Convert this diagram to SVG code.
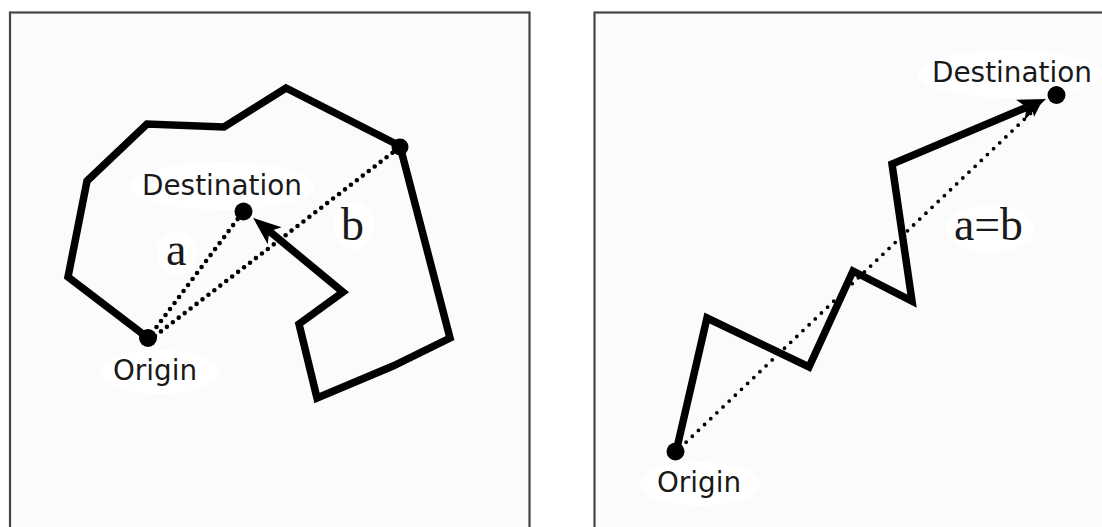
<svg xmlns="http://www.w3.org/2000/svg" width="1102" height="527" viewBox="0 0 1102 527">
  <style>
    .panel { fill: #fbfbfb; stroke: #444; stroke-width: 2.2; }
    .route { fill: none; stroke: #000; stroke-width: 7.5; stroke-linejoin: miter; stroke-miterlimit: 10; }
    .dots { fill: none; stroke: #000; stroke-width: 4.6; stroke-linecap: round; stroke-dasharray: 0 7.5; }
    .dots2 { fill: none; stroke: #000; stroke-width: 3.8; stroke-linecap: round; stroke-dasharray: 0 8.5; }
    .lbl { font-family: "DejaVu Sans", "Liberation Sans", sans-serif; font-size: 28px; fill: #1a1a1a; }
    .var { font-family: "Liberation Serif", "Times New Roman", serif; font-size: 46px; fill: #1a1a1a; }
    .halo { fill: #ffffff; }
    .dot { fill: #000; }
  </style>
  <defs>
    <marker id="bigArrow" markerUnits="userSpaceOnUse" markerWidth="30" markerHeight="26" viewBox="0 -13 30 26" refX="7" refY="0" orient="auto">
      <path d="M0,-11 L28,0 L0,11 L7,0 Z" fill="#000"/>
    </marker>
    <marker id="smallArrow" markerUnits="userSpaceOnUse" markerWidth="16" markerHeight="14" viewBox="0 -7 16 14" refX="2" refY="0" orient="auto">
      <path d="M0,-5 L14,0 L0,5 L3,0 Z" fill="#000"/>
    </marker>
  </defs>

  <rect width="1102" height="527" fill="#ffffff"/>

  <g id="panel-left">
    <rect class="panel" x="10" y="12.5" width="519.5" height="530"/>
  </g>
  <g id="panel-right">
    <rect class="panel" x="594.5" y="12.5" width="530" height="530"/>
  </g>

  <g id="halos">
    <ellipse class="halo" cx="222" cy="186" rx="92" ry="24"/>
    <ellipse class="halo" cx="160" cy="372" rx="60" ry="22"/>
    <ellipse class="halo" cx="177" cy="253" rx="20" ry="22"/>
    <ellipse class="halo" cx="354" cy="226" rx="20" ry="24"/>
    <ellipse class="halo" cx="1010" cy="74" rx="92" ry="24"/>
    <ellipse class="halo" cx="700" cy="484" rx="60" ry="22"/>
    <ellipse class="halo" cx="990" cy="229" rx="44" ry="24"/>
  </g>

  <g id="connectors">
    <!-- left panel: thick route -->
    <polyline class="route" points="148,338 68,277 87,181 147,124 224,127 286,88 400,146 450,338 393,366 317,398 299,324 343,292 269.3,231.2" marker-end="url(#bigArrow)"/>
    <!-- left panel: straight-line distances -->
    <line class="dots" x1="152" y1="333" x2="240" y2="216"/>
    <line class="dots" x1="155" y1="336" x2="396" y2="150"/>
    <!-- right panel: thick route -->
    <polyline class="route" points="676,452 707,318 809,367 853,271 912,301 892,164 1026.7,107.2" marker-end="url(#bigArrow)"/>
    <!-- right panel: straight-line distance -->
    <line class="dots2" x1="680" y1="448" x2="1032" y2="112" marker-end="url(#smallArrow)"/>
  </g>

  <g id="node-left-origin">
    <circle class="dot" cx="148" cy="338" r="9"/>
    <text class="lbl" x="113" y="380" textLength="84" lengthAdjust="spacingAndGlyphs">Origin</text>
  </g>
  <g id="node-left-destination">
    <circle class="dot" cx="243.5" cy="211.5" r="9"/>
    <text class="lbl" x="142" y="195" textLength="160" lengthAdjust="spacingAndGlyphs">Destination</text>
  </g>
  <g id="node-left-corner">
    <circle class="dot" cx="400" cy="147" r="8.5"/>
  </g>
  <g id="label-a">
    <text class="var" x="166" y="265" font-size="48">a</text>
  </g>
  <g id="label-b">
    <text class="var" x="341" y="240">b</text>
  </g>

  <g id="node-right-origin">
    <circle class="dot" cx="675.5" cy="451.5" r="9"/>
    <text class="lbl" x="657" y="492" textLength="84" lengthAdjust="spacingAndGlyphs">Origin</text>
  </g>
  <g id="node-right-destination">
    <circle class="dot" cx="1056.5" cy="95" r="9"/>
    <text class="lbl" x="932" y="82" textLength="160" lengthAdjust="spacingAndGlyphs">Destination</text>
  </g>
  <g id="label-ab">
    <text class="var" x="954" y="240" font-size="45" textLength="69" lengthAdjust="spacingAndGlyphs">a=b</text>
  </g>
</svg>
